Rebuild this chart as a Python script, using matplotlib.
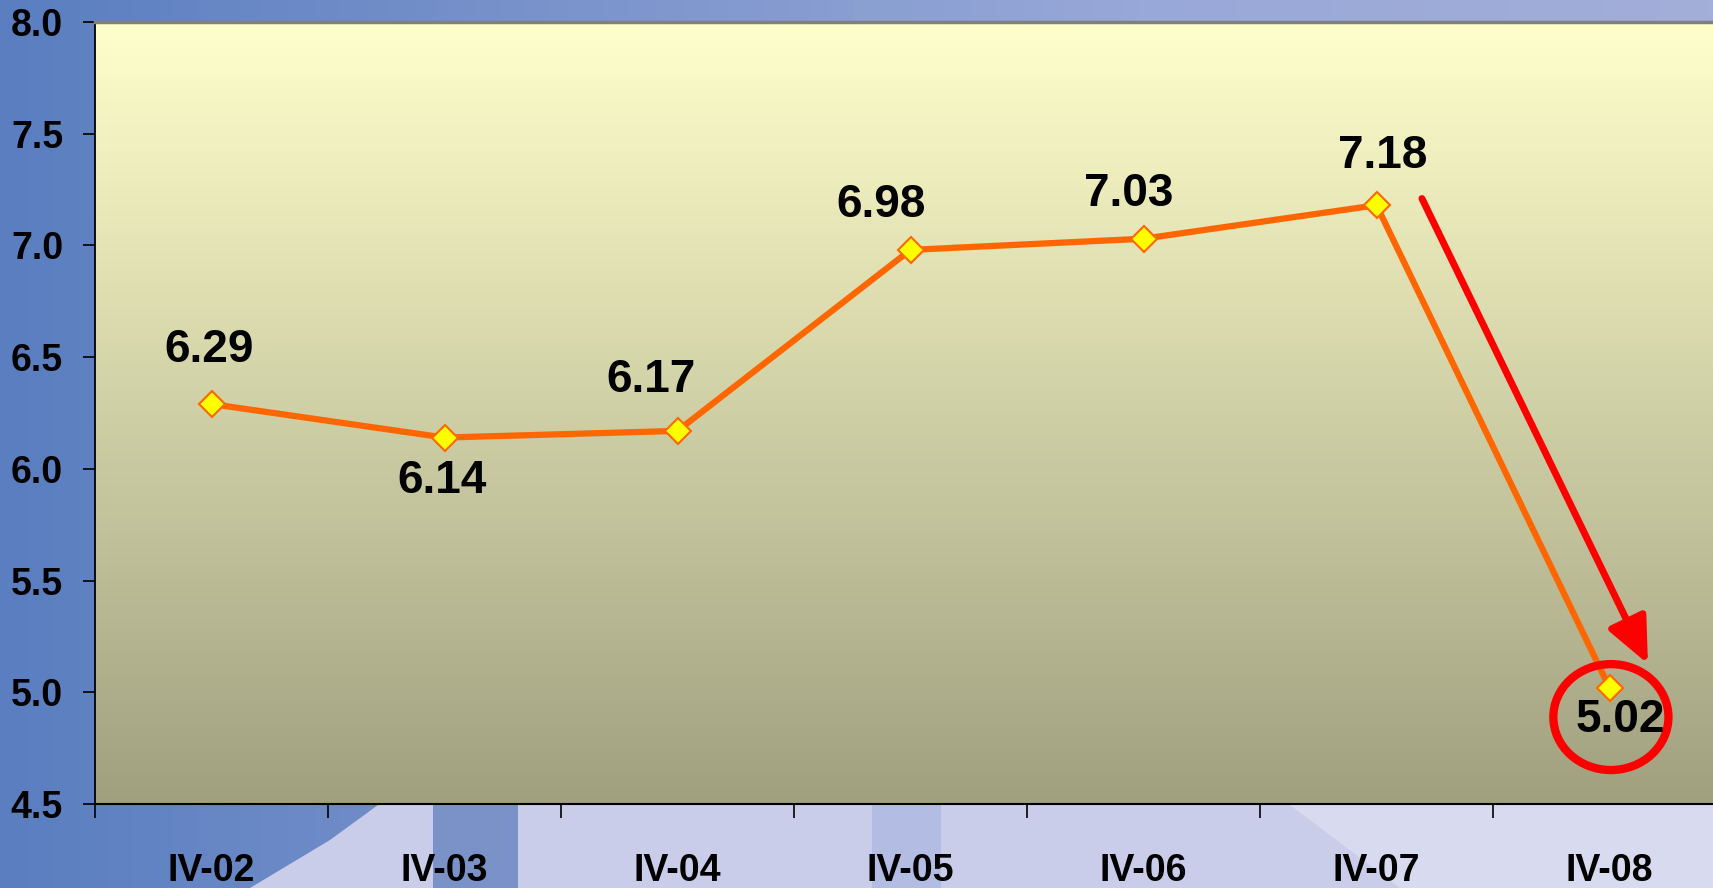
import numpy as np
import matplotlib
matplotlib.use("Agg")
import matplotlib.pyplot as plt
from matplotlib.patches import Ellipse, Polygon
from matplotlib.colors import LinearSegmentedColormap

# datos
trimestres = ["IV-02", "IV-03", "IV-04", "IV-05", "IV-06", "IV-07", "IV-08"]
valores = [6.29, 6.14, 6.17, 6.98, 7.03, 7.18, 5.02]
# desplazamiento de cada etiqueta respecto al punto (pixeles)
offsets_etq = [(-2, 54), (-2, -43), (-27, 51), (-29, 45), (-15, 45), (6, 49), (11, -32)]
y_ticks = [4.5, 5.0, 5.5, 6.0, 6.5, 7.0, 7.5, 8.0]

W, H = 1713, 888
fig = plt.figure(figsize=(W / 100, H / 100), dpi=100)

plt.rcParams['font.family'] = ['Liberation Sans', 'DejaVu Sans']

# fondo azul de la diapositiva
ax_bg = fig.add_axes([0, 0, 1, 1], zorder=-2)
ax_bg.set_xlim(0, W)
ax_bg.set_ylim(H, 0)
ax_bg.axis('off')
grad_bg = LinearSegmentedColormap.from_list('bg', ['#5a7ec0', '#7b94cc', '#98a8d8', '#a3aed9'])
ax_bg.imshow(np.linspace(0, 1, 256)[None, :], extent=(0, W, H, 0), cmap=grad_bg, aspect='auto')
# franja clara abajo
ax_bg.add_patch(Polygon([(250, H), (330, 840), (378, 805), (W, 805), (W, H)],
                        closed=True, color='#c9cdea', lw=0))
ax_bg.add_patch(Polygon([(1290, 805), (W, 805), (W, H), (1400, H)],
                        closed=True, color='#d8dbef', lw=0))
ax_bg.add_patch(Polygon([(433, 805), (518, 805), (518, H), (433, H)],
                        closed=True, color='#7b92c8', lw=0))
ax_bg.add_patch(Polygon([(872, 805), (941, 805), (941, H), (872, H)],
                        closed=True, color='#b3bce2', lw=0))
ax_bg.add_patch(Polygon([(853, 0), (913, 0), (913, 22), (853, 22)],
                        closed=True, color='#8aa0d0', lw=0))

# area del grafico
cat_w = 233
ax = fig.add_axes([95 / W, (H - 804) / H, 7 * cat_w / W, (804 - 22) / H])
ax.set_xlim(-0.5, 6.5)
ax.set_ylim(4.5, 8.0)

grad = LinearSegmentedColormap.from_list('plot', ['#a0a080', '#ffffcc'])
ax.imshow(np.linspace(0, 1, 256)[:, None], extent=(-0.5, 6.5, 4.5, 8.0),
          cmap=grad, origin='lower', aspect='auto', zorder=0)

x = np.arange(len(trimestres))
ax.plot(x, valores, color='#ff6600', lw=4.5, zorder=3,
        marker='D', markersize=13, markerfacecolor='#ffff00',
        markeredgecolor='#ff6600', markeredgewidth=1.5)

for xi, v, (dx, dy) in zip(x, valores, offsets_etq):
    ax.annotate(f"{v:.2f}", (xi, v), xytext=(dx, dy), textcoords='offset pixels',
                ha='center', va='center', fontsize=33, fontweight='bold', zorder=5)

# flecha roja de la caida
ax.annotate("", xy=(6 + 0.165, valores[6] + 0.107), xytext=(5 + 0.195, valores[5] + 0.03),
            arrowprops=dict(arrowstyle='-|>,head_length=2.8,head_width=1.25',
                            mutation_scale=10, color='#ff0000', lw=5,
                            shrinkA=0, shrinkB=0),
            zorder=4, annotation_clip=False)
ax.add_patch(Ellipse((6.006, 4.889), 0.494, 0.474, fill=False,
                     edgecolor='#ff0000', lw=6, zorder=4, clip_on=False))

# ejes
ax.set_yticks(y_ticks)
ax.set_yticklabels([f"{t:.1f}" for t in y_ticks], fontsize=27, fontweight='bold')
ax.tick_params(axis='y', direction='out', length=9, width=1.2, pad=14)
ax.set_xticks(np.arange(-0.5, 7, 1))
ax.set_xticklabels([])
ax.set_xticks(x, minor=True)
ax.set_xticklabels(trimestres, minor=True, fontsize=27, fontweight='bold')
ax.tick_params(axis='x', which='major', direction='out', length=10, width=1.2)
ax.tick_params(axis='x', which='minor', length=0, pad=35)

ax.spines['top'].set_color('#808080')
ax.spines['top'].set_linewidth(2.5)
ax.spines['left'].set_linewidth(1.3)
ax.spines['bottom'].set_linewidth(1.5)
ax.spines['right'].set_visible(False)

fig.savefig("out.png", dpi=100)
